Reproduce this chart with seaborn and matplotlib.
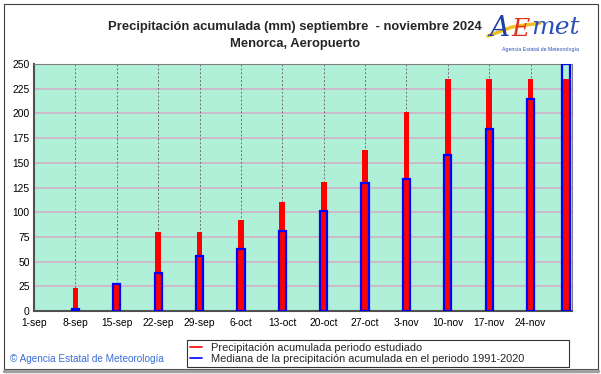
import numpy as np
import pandas as pd
import matplotlib
matplotlib.use("Agg")
import matplotlib.pyplot as plt
from matplotlib.lines import Line2D
from matplotlib.patches import Rectangle
import seaborn as sns

# ---- data ----
bar_dates = ["2024-09-08", "2024-09-15", "2024-09-22", "2024-09-29", "2024-10-06",
             "2024-10-13", "2024-10-20", "2024-10-27", "2024-11-03", "2024-11-10",
             "2024-11-17", "2024-11-24", "2024-11-30"]
precip_2024 = [23, 27, 80, 80, 92, 110, 131, 163, 201, 235, 235, 235, 235]
median_1991_2020 = [2, 27, 38.5, 56, 63, 81, 101.5, 129.5, 134, 158, 184.5, 215, 250]
tick_labels = ["1-sep", "8-sep", "15-sep", "22-sep", "29-sep", "6-oct", "13-oct",
               "20-oct", "27-oct", "3-nov", "10-nov", "17-nov", "24-nov"]
y_ticks = [0, 25, 50, 75, 100, 125, 150, 175, 200, 225, 250]
title_line1 = "Precipitación acumulada (mm) septiembre  - noviembre 2024"
title_line2 = "Menorca, Aeropuerto"
legend_labels = ["Precipitación acumulada periodo estudiado",
                 "Mediana de la precipitación acumulada en el periodo 1991-2020"]

start = pd.Timestamp("2024-09-01")
end = pd.Timestamp("2024-12-01")
days = [(pd.Timestamp(d) - start).days for d in bar_dates]
df = pd.DataFrame({"day": days, "precip": precip_2024, "median": median_1991_2020})
min_step = np.diff(sorted(set(days))).min()

sns.set_style("white")
plt.rcParams["font.family"] = ["Liberation Sans", "DejaVu Sans"]

fig = plt.figure(figsize=(6.01, 3.74), dpi=100)
fig.patch.set_facecolor("white")
ax = fig.add_axes([34/601, 1-311/374, (572-34)/601, (311-64)/374])
ax.set_facecolor("#b0f0d8")

sns.barplot(data=df, x="day", y="precip", native_scale=True, color="#ff0000",
            saturation=1, width=0.97/min_step, errorbar=None, ax=ax,
            linewidth=0, zorder=3)
sns.barplot(data=df, x="day", y="median", native_scale=True, color="#0000ff",
            saturation=1, width=1.22/min_step, errorbar=None, ax=ax,
            fill=False, linewidth=1.6, zorder=4)

ax.set_xlim(0, (end - start).days)
ax.set_ylim(0, 250)
xt = list(range(0, 7*len(tick_labels), 7))
ax.set_xticks(xt)
ax.set_xticklabels(tick_labels, fontsize=7.4)
ax.set_yticks(y_ticks)
ax.set_yticklabels([str(v) for v in y_ticks], fontsize=7.4)
ax.tick_params(axis="both", length=0, pad=5, colors="black")
ax.tick_params(axis="y", pad=3)
ax.set_xlabel("")
ax.set_ylabel("")

# grid
for v in y_ticks[1:-1]:
    ax.axhline(v, color="#ccb8cc", lw=1.4, zorder=1)
for v in xt[1:]:
    ax.axvline(v, color="#707070", lw=0.7, ls=(0, (2, 2)), zorder=1)

for s in ["left", "bottom"]:
    ax.spines[s].set_color("#505050")
    ax.spines[s].set_linewidth(1.5)
for s in ["top", "right"]:
    ax.spines[s].set_color("#808080")
    ax.spines[s].set_linewidth(0.8)

# titles
fig.text(295/601, 1-27/374, title_line1, ha="center", va="center",
         fontsize=9.4, fontweight="bold")
fig.text(295/601, 1-44/374, title_line2, ha="center", va="center",
         fontsize=9.4, fontweight="bold")

# legend
handles = [Line2D([], [], color="#ff0000", lw=1.2), Line2D([], [], color="#0000ff", lw=1.2)]
leg = fig.legend(handles, legend_labels, loc="lower left",
                 bbox_to_anchor=(187/601, 1-367/374, (569-187)/601, (367-337)/374),
                 mode="expand", fontsize=7.9, frameon=True, fancybox=False,
                 handlelength=1.1, handletextpad=0.8, borderpad=0.3,
                 labelspacing=0.05, borderaxespad=0)
leg.get_frame().set_edgecolor("black")
leg.get_frame().set_linewidth(0.8)

# copyright
fig.text(10/601, 1-359/374, "© Agencia Estatal de Meteorología", ha="left",
         va="center", fontsize=7.2, color="#3a6fd8")

# logo (approximation)
fig.text(489/601, 1-28/374, "A", fontsize=20, color="#1f3fa8", style="italic",
         ha="left", va="center", family="DejaVu Serif")
fig.text(511/601, 1-29/374, "E", fontsize=18, color="#e03020", style="italic",
         ha="left", va="center", family="DejaVu Serif")
fig.text(531/601, 1-27/374, "met", fontsize=18, color="#2a50b8", style="italic",
         ha="left", va="center", family="DejaVu Serif")
fig.add_artist(Line2D([488/601, 512/601, 540/601], [1-36/374, 1-27/374, 1-23/374],
                      color="#f0c020", lw=2.5, transform=fig.transFigure))
fig.text(540/601, 1-50/374, "Agencia Estatal de Meteorología", fontsize=3.8,
         color="#2a50b8", ha="center", va="center")

# figure border
fig.add_artist(Rectangle((4/601, 1-369/374), 594/601, 365/374, fill=False,
                         edgecolor="#404040", lw=0.8, transform=fig.transFigure))
fig.add_artist(Line2D([4/601, 598/601], [1-371/374, 1-371/374], color="#a0a0a0",
                      lw=2.5, transform=fig.transFigure))

fig.savefig("out.png", dpi=100)
